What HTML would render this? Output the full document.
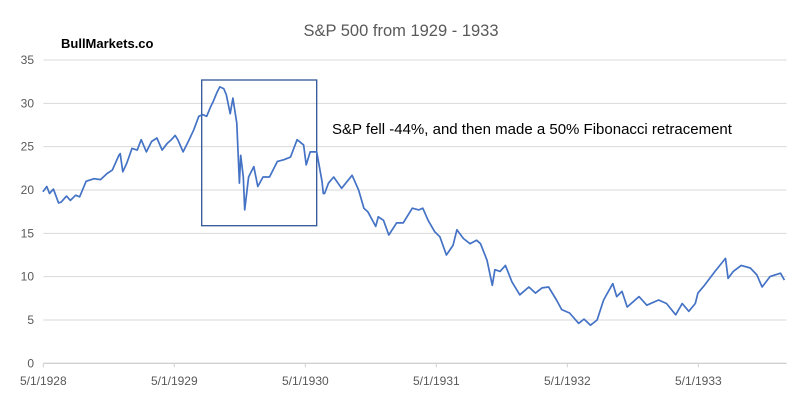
<!DOCTYPE html>
<html><head><meta charset="utf-8"><style>
body{margin:0;background:#fff;}
svg{display:block;font-family:"Liberation Sans",sans-serif;}
</style></head><body>
<svg id="chart" width="800" height="412">
<text x="401" y="36" text-anchor="middle" font-size="16.5" fill="#595959">S&amp;P 500 from 1929 - 1933</text>
<text x="61" y="48" font-size="13" font-weight="bold" fill="#000">BullMarkets.co</text>
<g id="grid"></g><g id="yt"></g><g id="xt"></g>
<rect x="201.7" y="80" width="115" height="145.7" fill="none" stroke="#2F5597" stroke-width="1.3"/>
<text x="332" y="134" font-size="15" fill="#000">S&amp;P fell -44%, and then made a 50% Fibonacci retracement</text>
<path id="line" fill="none" stroke="#4472C4" stroke-width="1.7" stroke-linejoin="round"/>
</svg>
<script>
const dates=[1928.33,1928.36,1928.38,1928.41,1928.45,1928.47,1928.51,1928.54,1928.58,1928.61,1928.66,1928.72,1928.77,1928.82,1928.86,1928.91,1928.92,1928.94,1928.97,1929.01,1929.05,1929.08,1929.12,1929.16,1929.20,1929.24,1929.28,1929.31,1929.34,1929.36,1929.40,1929.44,1929.48,1929.52,1929.55,1929.58,1929.61,1929.63,1929.66,1929.68,1929.71,1929.73,1929.76,1929.78,1929.81,1929.83,1929.84,1929.86,1929.87,1929.90,1929.94,1929.97,1930.01,1930.06,1930.12,1930.17,1930.22,1930.27,1930.32,1930.34,1930.37,1930.42,1930.46,1930.47,1930.48,1930.51,1930.55,1930.61,1930.69,1930.74,1930.78,1930.81,1930.87,1930.89,1930.93,1930.97,1931.03,1931.08,1931.15,1931.20,1931.23,1931.27,1931.32,1931.36,1931.41,1931.46,1931.49,1931.54,1931.59,1931.64,1931.67,1931.72,1931.76,1931.78,1931.82,1931.86,1931.91,1931.97,1932.04,1932.09,1932.14,1932.19,1932.25,1932.29,1932.35,1932.42,1932.46,1932.51,1932.56,1932.61,1932.68,1932.71,1932.75,1932.79,1932.88,1932.94,1933.03,1933.09,1933.16,1933.21,1933.26,1933.31,1933.33,1933.38,1933.46,1933.54,1933.56,1933.60,1933.66,1933.73,1933.78,1933.82,1933.88,1933.96,1933.99];
const prices=[19.8,20.4,19.6,20.1,18.5,18.6,19.3,18.8,19.4,19.2,21.0,21.3,21.2,21.9,22.3,24.0,24.2,22.1,23.1,24.8,24.6,25.8,24.4,25.6,26.0,24.6,25.4,25.8,26.3,25.8,24.4,25.6,26.9,28.5,28.7,28.5,29.6,30.2,31.3,31.9,31.7,31.0,28.8,30.6,27.7,20.8,24.0,21.5,17.7,21.5,22.7,20.4,21.5,21.5,23.3,23.5,23.8,25.8,25.2,22.9,24.4,24.4,21.0,19.6,19.6,20.8,21.5,20.2,21.7,20.0,17.9,17.5,15.8,16.9,16.5,14.8,16.2,16.2,17.9,17.7,17.9,16.5,15.2,14.6,12.5,13.6,15.4,14.4,13.8,14.2,13.8,11.9,9.0,10.8,10.6,11.3,9.4,7.9,8.8,8.1,8.7,8.8,7.3,6.2,5.8,4.6,5.1,4.4,5.0,7.3,9.2,7.7,8.3,6.5,7.7,6.7,7.3,6.9,5.6,6.9,6.0,6.9,8.1,9.0,10.6,12.1,9.8,10.6,11.3,11.0,10.2,8.8,10.0,10.4,9.6];
const yTicks=[0,5,10,15,20,25,30,35];
const xTickDates=[1928.333,1929.333,1930.333,1931.333,1932.333,1933.333];
const xTickLabels=["5/1/1928","5/1/1929","5/1/1930","5/1/1931","5/1/1932","5/1/1933"];
const X0=43.3,X1=786.5,Y0=363.3,Y1=60,D0=1928.333,D1=1934.006;
const sx=d=>X0+(d-D0)/(D1-D0)*(X1-X0);
const sy=v=>Y0-v/35*(Y0-Y1);
const NS="http://www.w3.org/2000/svg";
const grid=document.getElementById('grid'),yt=document.getElementById('yt'),xt=document.getElementById('xt');
yTicks.forEach(v=>{
  const l=document.createElementNS(NS,'line');
  l.setAttribute('x1',X0);l.setAttribute('x2',X1);l.setAttribute('y1',sy(v));l.setAttribute('y2',sy(v));
  l.setAttribute('stroke',v===0?'#d0d0d0':'#d9d9d9');l.setAttribute('stroke-width',v===0?1.3:1);
  
  
  grid.appendChild(l);
  const t=document.createElementNS(NS,'text');
  t.setAttribute('x',34);t.setAttribute('y',sy(v)+4);t.setAttribute('text-anchor','end');
  t.setAttribute('font-size','12');t.setAttribute('fill','#595959');t.textContent=v;
  
  
  yt.appendChild(t);
});
xTickDates.forEach((d,i)=>{
  const x=sx(d);
  const l=document.createElementNS(NS,'line');
  l.setAttribute('x1',x);l.setAttribute('x2',x);l.setAttribute('y1',Y0);l.setAttribute('y2',Y0+4);
  l.setAttribute('stroke','#d0d0d0');
  
  
  xt.appendChild(l);
  const t=document.createElementNS(NS,'text');
  t.setAttribute('x',x);t.setAttribute('y',385);t.setAttribute('text-anchor','middle');
  t.setAttribute('font-size','12');t.setAttribute('fill','#595959');t.textContent=xTickLabels[i];
  
  
  xt.appendChild(t);
});
document.getElementById('line').setAttribute('d',dates.map((d,i)=>(i?'L':'M')+sx(d).toFixed(1)+','+sy(prices[i]).toFixed(1)).join(''));
</script>
</body></html>
